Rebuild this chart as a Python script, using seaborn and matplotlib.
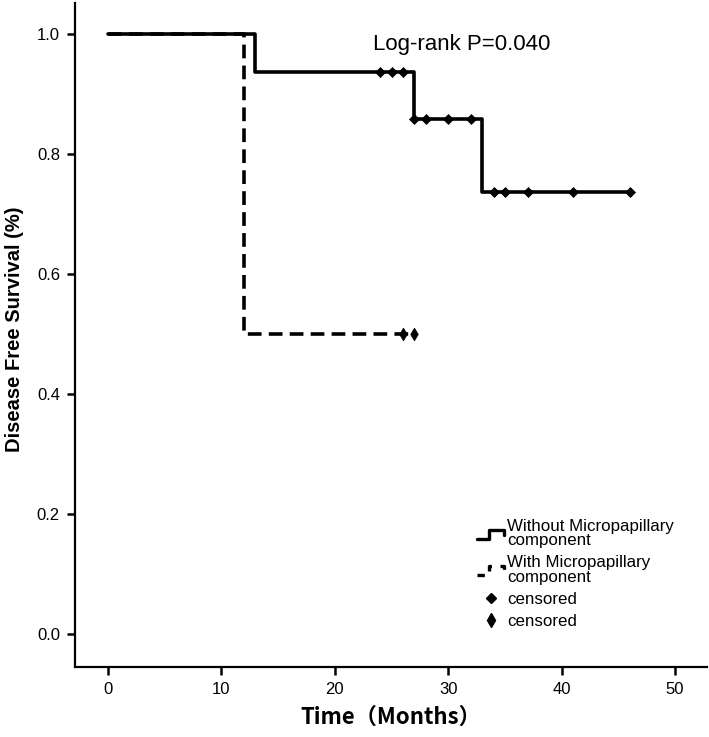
import matplotlib
matplotlib.use("Agg")
import matplotlib.pyplot as plt
from matplotlib.lines import Line2D
from matplotlib.legend_handler import HandlerBase
import seaborn as sns
import pandas as pd
import numpy as np

# ---- data ----
without_times = [0, 13, 27, 33, 46]
without_surv = [1.0, 0.9375, 0.859, 0.737, 0.737]
without_censored = [24, 25, 26, 27, 28, 30, 32, 34, 35, 37, 41, 46]

with_times = [0, 12, 27]
with_surv = [1.0, 0.5, 0.5]
with_censored = [26, 27]

x_ticks = [0, 10, 20, 30, 40, 50]
y_ticks = [0.0, 0.2, 0.4, 0.6, 0.8, 1.0]
legend_labels = ["Without Micropapillary\ncomponent",
                 "With Micropapillary\ncomponent",
                 "censored", "censored"]
pvalue_text = "Log-rank P=0.040"


def surv_at(times, surv, t):
    idx = np.searchsorted(times, t, side="right") - 1
    return surv[idx]


sns.set_theme(style="white")
plt.rcParams["font.family"] = ["Liberation Sans", "DejaVu Sans"]
plt.rcParams["text.color"] = "black"
plt.rcParams["axes.labelcolor"] = "black"
plt.rcParams["xtick.color"] = "black"
plt.rcParams["ytick.color"] = "black"

fig = plt.figure(figsize=(7.09, 7.37), dpi=100)
ax = fig.add_axes([0.106, 0.095, 0.891, 0.901])

df_wo = pd.DataFrame({"time": without_times, "surv": without_surv})
df_w = pd.DataFrame({"time": with_times, "surv": with_surv})

sns.lineplot(data=df_wo, x="time", y="surv", ax=ax, drawstyle="steps-post",
             color="black", linewidth=2.6, estimator=None, sort=False)
sns.lineplot(data=df_w, x="time", y="surv", ax=ax, drawstyle="steps-post",
             color="black", linewidth=2.6, estimator=None, sort=False,
             linestyle=(0, (3.8, 2.0)))

cwo = pd.DataFrame({"time": without_censored,
                    "surv": [surv_at(without_times, without_surv, t) for t in without_censored]})
cw = pd.DataFrame({"time": with_censored,
                   "surv": [surv_at(with_times, with_surv, t) for t in with_censored]})
sns.scatterplot(data=cwo, x="time", y="surv", ax=ax, marker="D", s=26,
                color="black", edgecolor="black", linewidth=0.5, zorder=5)
sns.scatterplot(data=cw, x="time", y="surv", ax=ax, marker="d", s=42,
                color="black", edgecolor="black", linewidth=0.5, zorder=5)

ax.set_xlim(-2.9, 52.8)
ax.set_ylim(-0.055, 1.052)
ax.set_xticks(x_ticks)
ax.set_yticks(y_ticks)
ax.set_xticklabels([str(v) for v in x_ticks], fontsize=12)
ax.set_yticklabels([f"{v:.1f}" for v in y_ticks], fontsize=12)
ax.tick_params(axis="both", direction="out", length=6, width=1.8, color="black",
               labelcolor="black", bottom=True, left=True, pad=5)
for s in ["top", "right"]:
    ax.spines[s].set_visible(False)
for s in ["left", "bottom"]:
    ax.spines[s].set_color("black")
    ax.spines[s].set_linewidth(1.6)

ax.set_xlabel("Time（Months）", fontsize=16, fontweight="bold",
              family=["Noto Sans CJK SC", "DejaVu Sans"], labelpad=6)
ax.set_ylabel("Disease Free Survival (%)", fontsize=14.5, fontweight="bold", labelpad=9)
ax.yaxis.label.set_y(0.509)

ax.text(31.2, 0.982, pvalue_text, fontsize=16, ha="center", va="center", color="black")


class HandlerStep(HandlerBase):
    def __init__(self, ls):
        super().__init__()
        self.ls = ls

    def create_artists(self, legend, orig_handle, xdescent, ydescent, width, height,
                       fontsize, trans):
        x0 = -xdescent
        y0 = -ydescent
        xs = [x0, x0 + width * 0.45, x0 + width * 0.45, x0 + width * 0.97, x0 + width * 0.97]
        ys = [y0 + height * 0.05, y0 + height * 0.05, y0 + height * 0.8,
              y0 + height * 0.8, y0 + height * 0.4]
        ln = Line2D(xs, ys, color="black", linewidth=2.4, linestyle=self.ls)
        ln.set_transform(trans)
        return [ln]


h1 = Line2D([], [], color="black")
h2 = Line2D([], [], color="black", linestyle="--")
h3 = Line2D([], [], color="black", marker="D", markersize=5, linestyle="none")
h4 = Line2D([], [], color="black", marker="d", markersize=7, linestyle="none")
leg = ax.legend([h1, h2, h3, h4], legend_labels, loc="upper left",
                bbox_to_anchor=(0.658, 0.31), bbox_transform=fig.transFigure,
                frameon=False, fontsize=12.2, handlelength=1.65, handletextpad=0.15,
                labelspacing=0.42, borderpad=0.1,
                handler_map={h1: HandlerStep("-"), h2: HandlerStep((0, (2.2, 2.6)))})
for t in leg.get_texts():
    t.set_linespacing(0.95)

fig.savefig("out.png", dpi=100, facecolor="white")
